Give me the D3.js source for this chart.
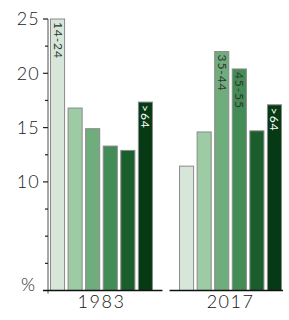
<!DOCTYPE html>
<html>
<head>
<meta charset="utf-8">
<script src="https://cdn.jsdelivr.net/npm/d3@7"></script>
<style>
  body { margin: 0; background: #fff; }
  text { font-family: Lato, "Open Sans", sans-serif; }
</style>
</head>
<body>
<div id="chart"></div>
<script>
const years = ["1983", "2017"];
const ageGroups = ["14-24", "25-34", "35-44", "45-55", "55-64", ">64"];
const values1983 = [25.0, 16.8, 14.9, 13.3, 12.9, 17.35];
const values2017 = [11.45, 14.6, 22.0, 20.4, 14.7, 17.1];
const shownLabels = { "1983": ["14-24", ">64"], "2017": ["35-44", "45-55", ">64"] };
const colors = ["#d6e7da", "#9ccba4", "#6fad7c", "#438c55", "#1a5e2b", "#063a14"];
const yMajor = [10, 15, 20, 25];
const yMinor = [2.5, 5, 7.5, 12.5, 17.5, 22.5];

const width = 289, height = 320;
const svg = d3.select("#chart").append("svg").attr("width", width).attr("height", height);

const data = years.map((yr, i) => ({
    year: yr,
    values: (i === 0 ? values1983 : values2017).map((v, j) => ({ age: ageGroups[j], value: v, color: colors[j] }))
}));

const y = d3.scaleLinear().domain([0, 25]).range([290.5, 19]);
const x0 = d3.scaleBand().domain(years).range([50.5, 281.5]).paddingInner(0.21);
const x1 = d3.scaleBand().domain(ageGroups).range([0, x0.bandwidth()]).paddingInner(0.2);

// bars
const groups = svg.selectAll("g.grp").data(data).enter().append("g")
    .attr("class", "grp")
    .attr("transform", d => `translate(${x0(d.year)},0)`);

groups.selectAll("rect").data(d => d.values).enter().append("rect")
    .attr("x", d => x1(d.age))
    .attr("y", d => y(d.value))
    .attr("width", x1.bandwidth())
    .attr("height", d => y(0) - y(d.value))
    .attr("fill", d => d.color)
    .attr("stroke", "#8a8a8a")
    .attr("stroke-width", 1);

groups.each(function (g) {
    d3.select(this).selectAll("text.lab")
        .data(g.values.filter(d => shownLabels[g.year].includes(d.age)))
        .enter().append("text")
        .attr("class", "lab")
        .attr("transform", d => `translate(${x1(d.age) + x1.bandwidth() / 2 - 4},${y(d.value) + 3}) rotate(90)`)
        .attr("font-size", 12)
        .attr("letter-spacing", 0.9)
        .attr("fill", d => d.age === ">64" ? "#fff" : "#333")
        .text(d => d.age);
});

// y axis
const yAxis = svg.append("g").attr("transform", "translate(48,0)");
yAxis.append("line")
    .attr("x1", 0).attr("x2", 0)
    .attr("y1", y(25)).attr("y2", y(0) + 3)
    .attr("stroke", "#8a8a8a").attr("stroke-width", 1.5);
yAxis.selectAll("line.minor").data(yMinor).enter().append("line")
    .attr("x1", -3).attr("x2", 0)
    .attr("y1", d => y(d)).attr("y2", d => y(d))
    .attr("stroke", "#222").attr("stroke-width", 1.2);
yAxis.selectAll("line.major").data(yMajor).enter().append("line")
    .attr("x1", -5).attr("x2", 0)
    .attr("y1", d => y(d)).attr("y2", d => y(d))
    .attr("stroke", "#222").attr("stroke-width", 1.2);
yAxis.selectAll("text").data(yMajor).enter().append("text")
    .attr("x", -8).attr("y", d => y(d))
    .attr("dy", "0.36em")
    .attr("text-anchor", "end")
    .attr("font-size", 18)
    .attr("font-weight", 300)
    .attr("letter-spacing", 1.2)
    .attr("fill", "#222")
    .text(d => d);
svg.append("text")
    .attr("x", 21).attr("y", y(0))
    .attr("font-size", 18)
    .attr("font-weight", 300)
    .attr("fill", "#222")
    .text("%");

// baselines per group
svg.selectAll("line.base").data(years).enter().append("line")
    .attr("x1", (d, i) => i === 0 ? 43 : x0(d) - 10)
    .attr("x2", (d, i) => i === 0 ? x0(d) + x0.bandwidth() + 10 : x0(d) + x0.bandwidth() + 1.5)
    .attr("y1", y(0)).attr("y2", y(0))
    .attr("stroke", "#111").attr("stroke-width", 1.3);

// year labels
svg.selectAll("text.year").data(years).enter().append("text")
    .attr("class", "year")
    .attr("x", d => x0(d) + x0.bandwidth() / 2)
    .attr("y", 308)
    .attr("text-anchor", "middle")
    .attr("font-size", 18)
    .attr("font-weight", 300)
    .attr("letter-spacing", 1.5)
    .attr("fill", "#111")
    .text(d => d);
</script>
</body>
</html>
